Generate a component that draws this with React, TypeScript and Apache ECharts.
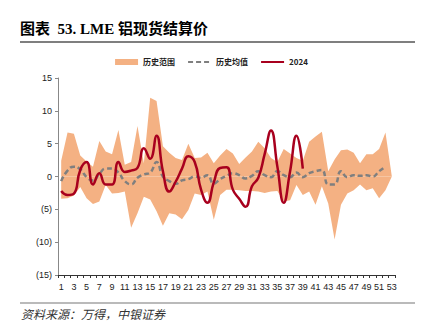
import React, { useEffect, useRef } from "react";
import * as echarts from "echarts";

const weeks: string[] = Array.from({ length: 53 }, (_, i) => String(i + 1));

const rangeUpper: number[] = [
  2.4, 6.7, 6.5, 3.2, 2.3, 1.5, 5.4, 3.8, 3.4, 7.1,
  1.8, 2.2, 7.7, 2.0, 12.0, 11.5, 4.6, 3.6, 2.8, 2.5,
  5.0, 2.8, 2.9, 3.6, 2.0, 3.2, 4.2, 3.5, 1.9, 2.9,
  3.8, 5.3, 4.3, 2.8, 2.2, 4.2, 3.5, 2.8, 2.4, 5.3,
  6.1, 6.8, 0.8, 2.6, 4.0, 4.1, 3.6, 2.0, 3.4, 3.4,
  4.2, 6.7, 0,
];

const rangeLower: number[] = [
  -3.4, -3.3, -2.9, -1.6, -3.3, -4.2, -3.8, -1.3, -2.6, -2.5,
  -2.3, -7.8, -5.6, -3.1, -3.5, -5.3, -7.5, -5.6, -5.8, -6.5,
  -5.1, -2.6, -2.8, -2.3, -6.6, -2.8, -2.0, -2.0, -2.1, -2.2,
  -2.2, -2.3, -2.5, -2.3, -2.2, -3.8, -3.6, -1.3, -2.8, -2.3,
  -4.3, -1.5, -4.1, -9.6, -4.3, -2.6, -2.1, -1.2, -2.1, -1.8,
  -3.3, -2.1, 0,
];

const histMean: (number | null)[] = [
  -0.7, 0.9, 1.5, 1.1, -0.1, -0.6, 0.4, 1.2, 1.2, 0.6,
  -0.7, -1.2, -0.2, 0.3, 0.6, 2.2, 0.0, -0.7, -1.1, -0.6,
  -0.4, 0.0, -0.2, 0.2, -1.1, -0.4, 0.1, 0.5, 0.2, -0.3,
  0.1, 0.8, 0.2, -0.1, 0.8, 0.2, -0.1, 0.6, -0.1, 0.5,
  0.8, 1.0, -1.2, -1.2, 0.8, -0.1, 0.2, 0.1, 0.2, 0.0,
  0.8, 1.5, null,
];

const y2024: (number | null)[] = [
  -2.2, -2.8, -2.6, 1.0, 2.2, -1.2, 0.5, -1.2, -1.2, 2.2,
  0.7, 0.9, 1.3, 4.3, 2.7, 6.2, 0.8, -2.3, -0.8, 1.2,
  3.1, 2.2, -2.0, -4.0, -0.9, 1.3, 1.4, -2.0, -3.4, -4.6,
  -1.5, -0.2, 3.4, 7.0, 1.5, -4.0, 0.8, 6.2, 1.2,
];

const yTicks = { min: -15, max: 15, interval: 5 };

const ORANGE = "#F4B183";
const RED = "#A8001E";
const GRAY = "#7F7F7F";

export default function App() {
  const ref = useRef<HTMLDivElement>(null);
  useEffect(() => {
    if (!ref.current) return;
    const chart = echarts.init(ref.current, null, { renderer: "svg" });
    const cjk = "'Noto Sans CJK SC', sans-serif";
    chart.setOption({
      animation: false,
      backgroundColor: "#fff",
      graphic: [
        {
          type: "text",
          left: 20,
          top: 21,
          style: {
            text: "图表  53. LME 铝现货结算价",
            font: "bold 15px 'Liberation Serif', 'Noto Sans CJK SC', serif",
            fill: "#000",
          },
        },
        {
          type: "line",
          shape: { x1: 20, y1: 42, x2: 415, y2: 42 },
          style: { stroke: "#555", lineWidth: 1.5 },
        },
        {
          type: "line",
          shape: { x1: 20, y1: 303, x2: 415, y2: 303 },
          style: { stroke: "#777", lineWidth: 1.2 },
        },
        {
          type: "text",
          left: 21,
          top: 307,
          style: {
            text: "资料来源：万得，中银证券",
            font: "italic 12px 'Noto Sans CJK SC', serif",
            fill: "#333",
          },
        },
      ],
      legend: {
        top: 53,
        left: "center",
        itemWidth: 23,
        itemHeight: 6,
        itemGap: 12,
        textStyle: { fontSize: 8, color: "#222", fontFamily: cjk, fontWeight: "bold" },
        data: [
          { name: "历史范围", icon: "rect", itemStyle: { color: ORANGE } },
          { name: "历史均值", itemStyle: { opacity: 0 } },
          { name: "2024", itemStyle: { opacity: 0 } },
        ],
      },
      grid: { left: 58, right: 28, top: 78, bottom: 53 },
      xAxis: [
        {
          type: "category",
          data: weeks,
          boundaryGap: true,
          axisLine: { show: false },
          axisTick: { show: false },
          axisLabel: {
            interval: 1,
            fontSize: 9,
            color: "#222",
            fontFamily: "'Liberation Sans', Arial, sans-serif",
            margin: 7,
          },
          splitLine: { show: false },
        },
        {
          type: "category",
          data: weeks,
          position: "bottom",
          boundaryGap: true,
          axisLine: { show: true, onZero: true, lineStyle: { color: "#333", width: 1 } },
          axisTick: { show: true, interval: 0, length: 3, lineStyle: { color: "#333" } },
          axisLabel: { show: false },
          splitLine: { show: false },
        },
      ],
      yAxis: {
        type: "value",
        min: yTicks.min,
        max: yTicks.max,
        interval: yTicks.interval,
        axisLine: { show: true, lineStyle: { color: "#888" } },
        axisTick: { show: true, length: 3, lineStyle: { color: "#888" } },
        splitLine: { show: false },
        axisLabel: {
          fontSize: 9,
          color: "#222",
          margin: 6,
          fontFamily: "'Liberation Sans', Arial, sans-serif",
          formatter: (v: number) => (v < 0 ? `(${Math.abs(v)})` : String(v)),
        },
      },
      series: [
        {
          name: "历史范围",
          type: "line",
          data: rangeUpper,
          symbol: "none",
          lineStyle: { width: 0, color: ORANGE },
          itemStyle: { color: ORANGE },
          areaStyle: { color: ORANGE, opacity: 1 },
          z: 1,
        },
        {
          name: "历史范围",
          type: "line",
          data: rangeLower,
          symbol: "none",
          lineStyle: { width: 0, color: ORANGE },
          itemStyle: { color: ORANGE },
          areaStyle: { color: ORANGE, opacity: 1 },
          z: 1,
        },
        {
          name: "历史均值",
          type: "line",
          data: histMean,
          symbol: "none",
          smooth: true,
          itemStyle: { color: GRAY },
          lineStyle: { color: GRAY, width: 2.5, type: [5, 3] },
          z: 3,
        },
        {
          name: "2024",
          type: "line",
          data: y2024,
          symbol: "none",
          smooth: true,
          itemStyle: { color: RED },
          lineStyle: { color: RED, width: 2.5 },
          z: 4,
        },
      ],
    });
    return () => chart.dispose();
  }, []);
  return <div ref={ref} style={{ width: 423, height: 328, position: "absolute", left: 0, top: 0 }} />;
}
